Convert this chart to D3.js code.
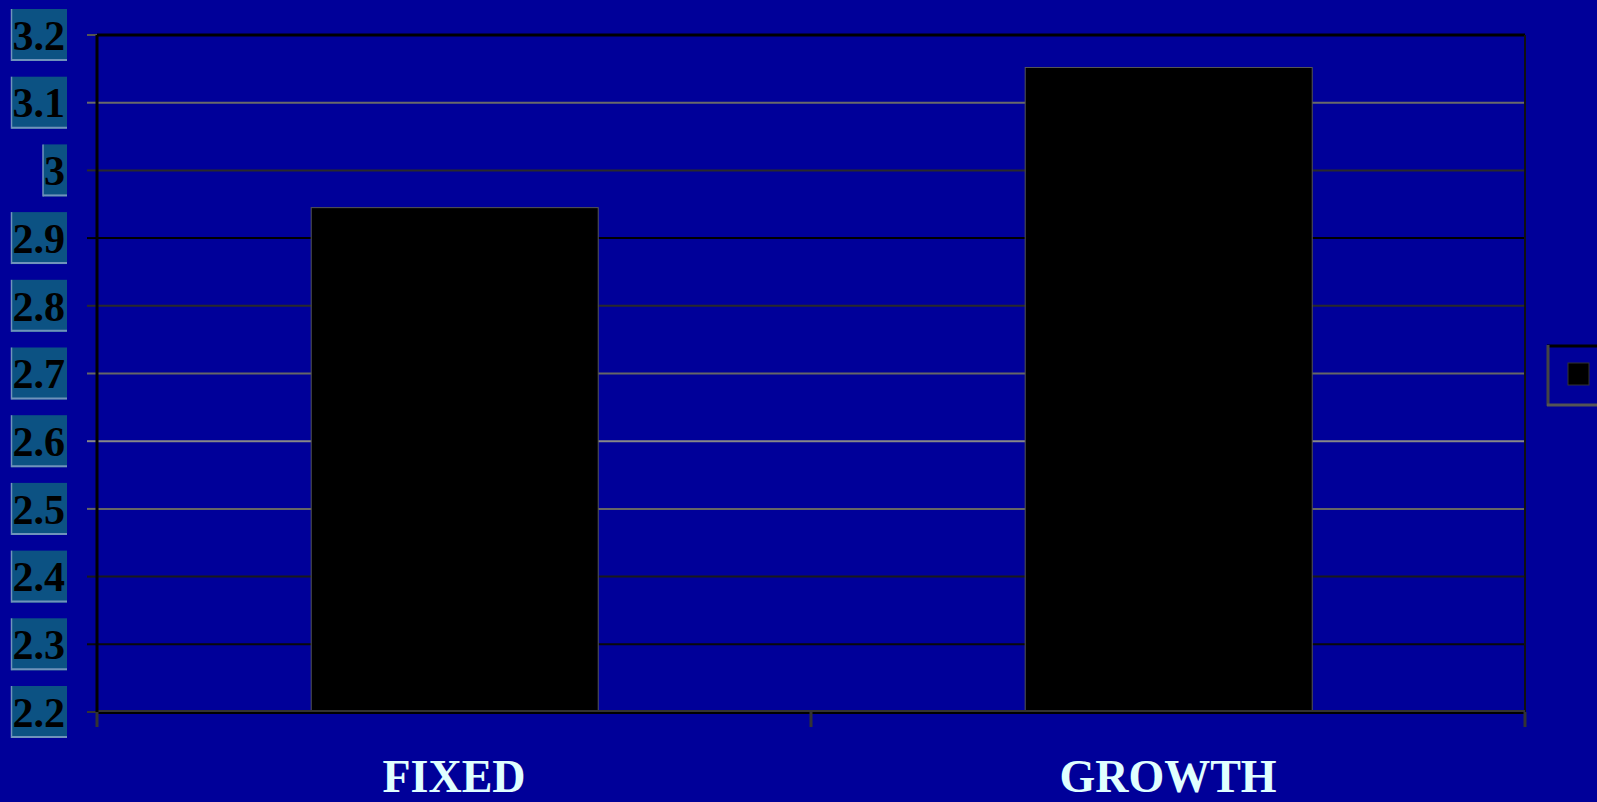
<!DOCTYPE html>
<html>
<head>
<meta charset="utf-8">
<script src="https://cdn.jsdelivr.net/npm/d3@7"></script>
<style>
  html, body { margin: 0; padding: 0; background: #000099; overflow: hidden; }
  svg { display: block; }
</style>
</head>
<body>
<div id="chart-area"></div>
<script>
// data
const categories = ["FIXED", "GROWTH"];
const values = [2.945, 3.152];
const yTicks = [2.2, 2.3, 2.4, 2.5, 2.6, 2.7, 2.8, 2.9, 3.0, 3.1, 3.2];
const seriesNames = [""];

let margin = {top: 35, right: 72, bottom: 90, left: 97},
  width = 1597 - margin.left - margin.right,
  height = 802 - margin.top - margin.bottom;

let svg = d3.select("#chart-area")
  .append("svg")
  .attr("width", 1597)
  .attr("height", 802)
  .style("background", "#000099");

let g = svg.append("g")
  .attr("transform", "translate(" + margin.left + "," + margin.top + ")");

let x = d3.scaleBand().domain(categories).range([0, width]);
let y = d3.scaleLinear().domain([2.2, 3.2]).range([height, 0]);

// gridline shades (scanned look of the original)
const gridShade = {"2.2": "#333", "2.3": "#0a0a0a", "2.4": "#1a1a1a", "2.5": "#666", "2.6": "#888",
  "2.7": "#666", "2.8": "#2a2a2a", "2.9": "#000", "3": "#2a2a2a", "3.1": "#6a6a6a", "3.2": "#000"};

g.selectAll(".grid")
  .data(yTicks.slice(1, -1))
  .enter().append("line")
  .attr("class", "grid")
  .attr("x1", 0).attr("x2", width)
  .attr("y1", d => y(d)).attr("y2", d => y(d))
  .attr("stroke", d => gridShade[String(d)])
  .attr("stroke-width", 2);

// left tick marks
g.selectAll(".ytick")
  .data(yTicks)
  .enter().append("line")
  .attr("x1", -10).attr("x2", 0)
  .attr("y1", d => y(d)).attr("y2", d => y(d))
  .attr("stroke", d => d === 3.2 ? "#555" : gridShade[String(d)])
  .attr("stroke-width", 2);

// bars
g.selectAll(".bar")
  .data(values)
  .enter().append("rect")
  .attr("class", "bar")
  .attr("x", (d, i) => x(categories[i]) + x.bandwidth() * 0.3)
  .attr("width", x.bandwidth() * 0.402)
  .attr("y", d => y(d))
  .attr("height", d => height - y(d))
  .attr("fill", "#000")
  .attr("stroke", "#555")
  .attr("stroke-width", 1);

// frame
g.append("line").attr("x1", 0).attr("x2", width).attr("y1", 0).attr("y2", 0)
  .attr("stroke", "#000").attr("stroke-width", 3);
g.append("line").attr("x1", width).attr("x2", width).attr("y1", 0).attr("y2", height)
  .attr("stroke", "#111").attr("stroke-width", 2);
g.append("line").attr("x1", 0).attr("x2", width).attr("y1", height - 1).attr("y2", height - 1)
  .attr("stroke", "#333").attr("stroke-width", 2);
g.append("line").attr("x1", 0).attr("x2", width).attr("y1", height + 1).attr("y2", height + 1)
  .attr("stroke", "#000").attr("stroke-width", 2);
g.append("line").attr("x1", 0).attr("x2", 0).attr("y1", 0).attr("y2", height)
  .attr("stroke", "#000").attr("stroke-width", 3);

// bottom category ticks
let xEdges = [0].concat(categories.map(c => x(c) + x.bandwidth()));
g.selectAll(".xtick")
  .data(xEdges)
  .enter().append("line")
  .attr("x1", d => d).attr("x2", d => d)
  .attr("y1", height).attr("y2", height + 15)
  .attr("stroke", "#333").attr("stroke-width", 3);

// y labels with boxes
let ylab = svg.selectAll(".ylab")
  .data(yTicks)
  .enter().append("g")
  .attr("class", "ylab");

ylab.append("text")
  .attr("x", 65)
  .attr("y", d => margin.top + y(d))
  .attr("dy", "0.35em")
  .attr("text-anchor", "end")
  .style("font-family", "'Liberation Serif', 'Times New Roman', serif")
  .style("font-weight", "bold")
  .style("font-size", "42px")
  .attr("fill", "#000")
  .text(d => d3.format("")(d));

ylab.each(function(d) {
  let t = d3.select(this).select("text");
  let bb = t.node().getBBox();
  let bx = bb.x - 1, bw = 67 - bx, by = margin.top + y(d) - 26;
  d3.select(this).insert("rect", "text")
    .attr("x", bx).attr("y", by).attr("width", bw).attr("height", 52)
    .attr("fill", "#0c5283");
  d3.select(this).insert("line", "text")
    .attr("x1", bx).attr("x2", bx).attr("y1", by).attr("y2", by + 52)
    .attr("stroke", "#6f93bb").attr("stroke-width", 1.5);
  d3.select(this).insert("line", "text")
    .attr("x1", bx).attr("x2", bx + bw).attr("y1", by + 51).attr("y2", by + 51)
    .attr("stroke", "#6f93bb").attr("stroke-width", 2);
});

// category labels
svg.selectAll(".xlab")
  .data(categories)
  .enter().append("text")
  .attr("x", d => margin.left + x(d) + x.bandwidth() / 2)
  .attr("y", 792)
  .attr("text-anchor", "middle")
  .style("font-family", "'Liberation Serif', 'Times New Roman', serif")
  .style("font-weight", "bold")
  .style("font-size", "46px")
  .attr("fill", "#e0ffff")
  .text(d => d);

// legend (mostly cropped off the right side)
let legend = svg.append("g").attr("transform", "translate(1547,345)");
legend.append("rect")
  .attr("width", 120).attr("height", 61)
  .attr("fill", "#000099");
legend.append("line").attr("x1", 0).attr("x2", 120).attr("y1", 1).attr("y2", 1)
  .attr("stroke", "#000").attr("stroke-width", 3);
legend.append("line").attr("x1", 1).attr("x2", 1).attr("y1", 0).attr("y2", 61)
  .attr("stroke", "#444").attr("stroke-width", 3);
legend.append("line").attr("x1", 0).attr("x2", 120).attr("y1", 60).attr("y2", 60)
  .attr("stroke", "#555").attr("stroke-width", 3);
legend.selectAll(".sw")
  .data(seriesNames)
  .enter().append("rect")
  .attr("x", 21).attr("y", 18)
  .attr("width", 21).attr("height", 22)
  .attr("fill", "#000")
  .attr("stroke", "#333");
legend.selectAll(".lt")
  .data(seriesNames)
  .enter().append("text")
  .attr("x", 50).attr("y", 37)
  .style("font-family", "'Liberation Serif', serif")
  .style("font-size", "24px")
  .attr("fill", "#e0ffff")
  .text(d => d);
</script>
</body>
</html>
